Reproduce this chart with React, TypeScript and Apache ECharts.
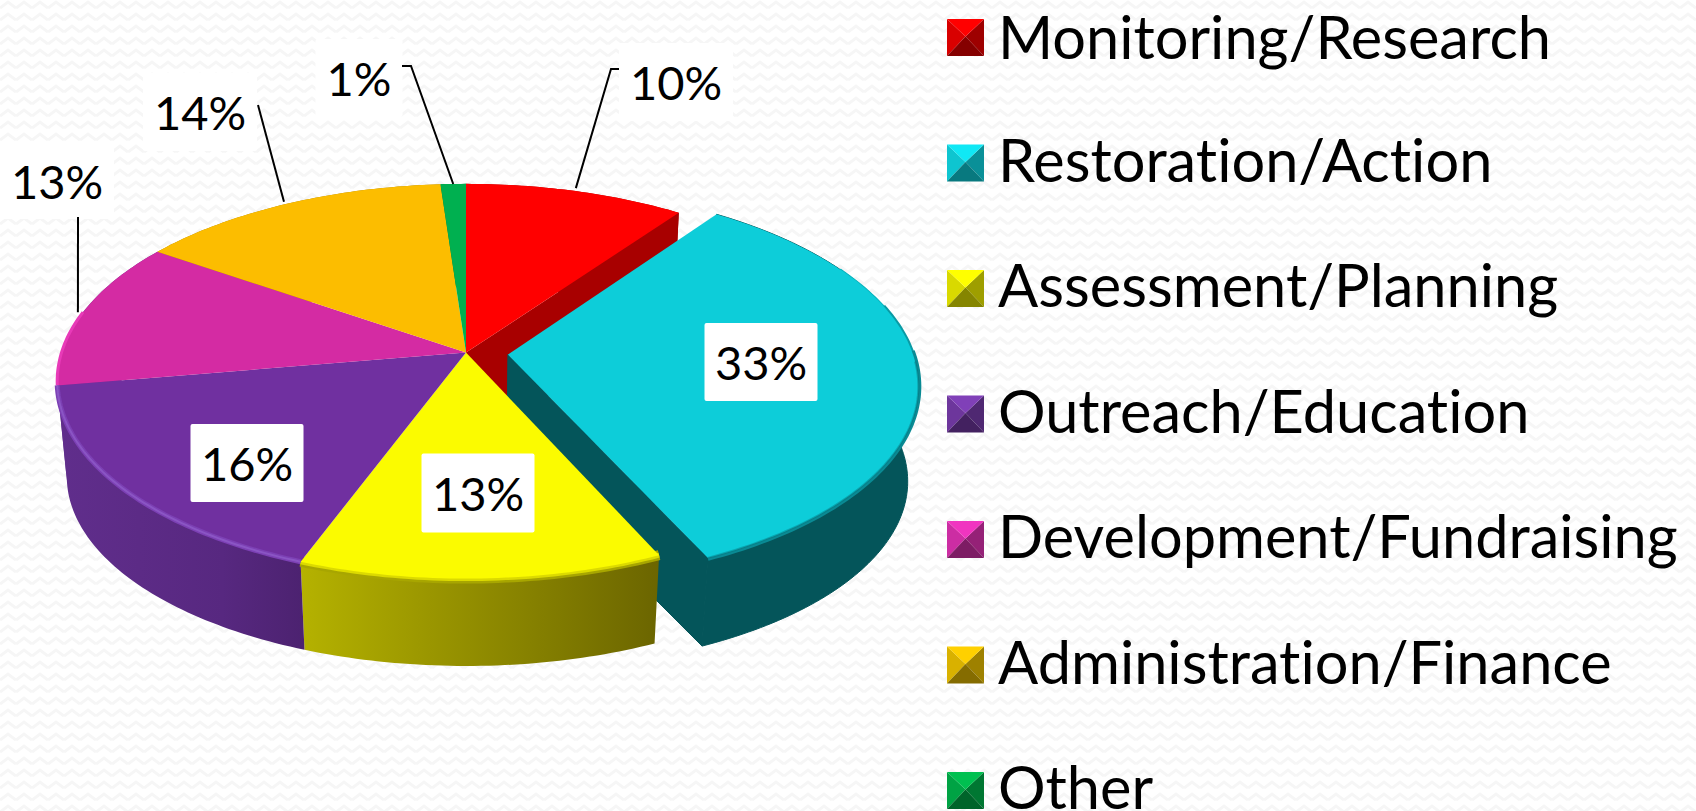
import React, { useEffect, useRef } from "react";
import * as echarts from "echarts";

const categories = [
  "Monitoring/Research",
  "Restoration/Action",
  "Assessment/Planning",
  "Outreach/Education",
  "Development/Fundraising",
  "Administration/Finance",
  "Other",
];
const shares = [10, 33.2, 12.55, 16.6, 12.2, 14.3, 1.15];
// The percentages printed on the chart
const shareLabels = ["10%", "33%", "13%", "16%", "13%", "14%", "1%"];
const topColors = ["#ff0000", "#0dcdd9", "#fbfb00", "#7030a0", "#d42ba3", "#fcbd00", "#00b050"];
const legendColors = ["#ff0000", "#10e8f5", "#ffff00", "#8040b8", "#f035c0", "#ffd000", "#00c050"];

const FONT = "Lato, Carlito, sans-serif";
const LABEL_SIZE = 47;
const LEGEND_SIZE = 59.5;

// Perspective of the disc: (u, v) in the unit disc, v towards the viewer
const K = 0.145;
const TOP = { cx: 466, cy: 352.6, a: 404.5, b: 193.2 };
const BOTTOM = { cx: 466, cy: 449, a: 395, b: 185.5 };
const EXPLODE = [0, 0.104, 0, 0, 0, 0, 0];

// Label boxes: centre, box size, optional leader elbow points
const labelLayout = [
  { x: 676, y: 82, w: 114, h: 78, dx: 0, dy: -3, leader: [[611, 69], [619, 69]] },
  { x: 761, y: 362, w: 113, h: 78, dx: 0, dy: 0, leader: null },
  { x: 478, y: 493, w: 113, h: 79, dx: 0, dy: 0, leader: null },
  { x: 247, y: 463, w: 113, h: 78, dx: 0, dy: 0, leader: null },
  { x: 57, y: 181, w: 114, h: 76, dx: -5, dy: 0, leader: [[78, 217]] },
  { x: 200, y: 112, w: 114, h: 78, dx: -3, dy: -2, leader: [[258, 105]] },
  { x: 359, y: 78, w: 87, h: 78, dx: 0, dy: 0, leader: [[411, 66], [402, 66]] },
];

const total = shares.reduce((s, v) => s + v, 0);
const startAngles: number[] = [];
shares.reduce((acc, v, i) => {
  startAngles[i] = acc;
  return acc + (v / total) * 360;
}, 0);

function disc(theta: number, r: number, idx: number) {
  const t = (theta * Math.PI) / 180;
  const mid = ((startAngles[idx] + (shares[idx] / total) * 180) * Math.PI) / 180;
  return [r * Math.sin(t) + EXPLODE[idx] * Math.sin(mid), -r * Math.cos(t) - EXPLODE[idx] * Math.cos(mid)];
}
function proj(p: number[], plane: typeof TOP) {
  const w = 1 - K * p[1];
  return [plane.cx + (plane.a * p[0]) / w, plane.cy + (plane.b * p[1]) / w];
}
function rim(a0: number, a1: number, idx: number, plane: typeof TOP) {
  const pts: number[][] = [];
  const n = Math.max(2, Math.ceil(Math.abs(a1 - a0)));
  for (let i = 0; i <= n; i++) pts.push(proj(disc(a0 + ((a1 - a0) * i) / n, 1, idx), plane));
  return pts;
}
function apex(idx: number, plane: typeof TOP) {
  return proj(disc(0, 0, idx), plane);
}
function grad(stops: string[]) {
  return {
    type: "linear",
    x: 0,
    y: 0,
    x2: 1,
    y2: 0,
    colorStops: stops.map((color, i) => ({ offset: i / (stops.length - 1), color })),
  };
}
const wallFills: any[] = [
  "#a80000",
  "#04555a",
  grad(["#b5b200", "#9c9800", "#847f00", "#6b6500"]),
  grad(["#602e8c", "#5c2b86", "#572880", "#4c2270"]),
  "#602e8c",
  "#a87e00",
  "#007535",
];
const poly = (points: number[][], fill: any, z2: number, stroke: string | null = null) => ({
  type: "polygon",
  z2,
  silent: true,
  shape: { points },
  style: { fill, stroke, lineWidth: stroke ? 1 : 0 },
});
const line = (points: number[][], stroke: string, lineWidth: number, z2: number) => ({
  type: "polyline",
  z2,
  silent: true,
  shape: { points },
  style: { fill: null, stroke, lineWidth },
});

function renderSlice(params: any, api: any) {
  const i = params.dataIndex;
  const share = api.value(1);
  const a0 = startAngles[i];
  const a1 = a0 + (share / total) * 360;
  const topRim = rim(a0, a1, i, TOP);
  const botRim = rim(a0, a1, i, BOTTOM);
  const cT = apex(i, TOP);
  const cB = apex(i, BOTTOM);
  const children: any[] = [];
  const isTeal = i === 1;
  // outer wall
  children.push(
    poly([...topRim, ...botRim.slice().reverse()], wallFills[i], isTeal ? 4 : i === 2 || i === 3 ? 5 : 1, isTeal ? "#04555a" : null)
  );
  // radial faces that the exploded slice uncovers
  if (i === 0) {
    children.push(poly([cT, topRim[topRim.length - 1], botRim[botRim.length - 1], cB], "#a80000", 2));
  }
  if (isTeal) {
    children.push(poly([cT, topRim[topRim.length - 1], botRim[botRim.length - 1], cB], "#04555a", 3, "#04555a"));
    children.push(line(rim(62, 76, i, TOP), "#0ab4be", 2, 5));
    children.push(line(rim(75, 90, i, TOP), "#0a9aa4", 4, 5));
    children.push(line(rim(89, a1, i, TOP), "#0a8a94", 6, 5));
  }
  // top
  children.push(poly([cT, ...topRim], topColors[i], isTeal ? 6 : 7));
  // bevel on the visible rim
  if (isTeal) children.push(line(rim(92, a1, i, TOP), "rgba(6,110,118,0.4)", 2, 7));
  if (i === 2) {
    children.push(line(topRim, "#a8a600", 10, 6));
    children.push(line(topRim, "#dcda00", 5, 6.5));
  }
  if (i === 3) {
    children.push(line(topRim, "#7c40b4", 5, 8));
    children.push(line(topRim, "#8a55c4", 2, 8.5));
  }
  if (i === 4) children.push(line(rim(a0, a0 + 22, i, TOP), "#e83ab8", 3, 8));

  // label
  const lay = labelLayout[i];
  children.push({
    type: "rect",
    z2: 20,
    silent: true,
    shape: { x: lay.x - lay.w / 2, y: lay.y - lay.h / 2, width: lay.w, height: lay.h, r: 2 },
    style: { fill: "#ffffff", stroke: null },
  });
  children.push({
    type: "text",
    z2: 21,
    silent: true,
    style: {
      x: lay.x,
      y: lay.y,
      text: shareLabels[i],
      fill: "#000000",
      font: `${LABEL_SIZE}px ${FONT}`,
      align: "center",
      verticalAlign: "middle",
    },
  });
  if (lay.leader) {
    const anchor = proj(disc((a0 + a1) / 2, 1, i), TOP);
    children.push(line([[anchor[0] + lay.dx, anchor[1] + lay.dy], ...lay.leader], "#000000", 2, 22));
  }
  return { type: "group", children };
}

function shade(hex: string, f: number) {
  const n = parseInt(hex.slice(1), 16);
  const c = [(n >> 16) & 255, (n >> 8) & 255, n & 255].map((v) => Math.round(v * f));
  return `rgb(${c[0]},${c[1]},${c[2]})`;
}
const LEGEND = { x: 947, y: 19, size: 37, step: 125.5, textX: 998 };
const legendGraphics = categories.flatMap((name, i) => {
  const { x, size } = LEGEND;
  const y = LEGEND.y + i * LEGEND.step;
  const mx = x + size / 2;
  const my = y + size / 2 - 1;
  const c = legendColors[i];
  const P = (points: number[][], fill: string) => ({ type: "polygon", shape: { points }, style: { fill } });
  return [
    P([[x, y], [mx, my], [x, y + size]], shade(c, 0.85)),
    P([[x + size, y], [mx, my], [x + size, y + size]], shade(c, 0.62)),
    P([[x, y + size], [mx, my], [x + size, y + size]], shade(c, 0.52)),
    P([[x, y], [x + size, y], [mx, my]], c),
    {
      type: "text",
      style: {
        x: LEGEND.textX,
        // the first row's line box must stay inside the page
        y: Math.max(36, y + size / 2 - 4.5),
        text: name,
        fill: "#000000",
        font: `${LEGEND_SIZE}px ${FONT}`,
        align: "left",
        verticalAlign: "middle",
      },
    },
  ];
});

const texture =
  "url(\"data:image/svg+xml;utf8," +
  encodeURIComponent(
    "<svg xmlns='http://www.w3.org/2000/svg' width='16' height='12'><polyline points='0,8 8,2 16,8' fill='none' stroke='#f6f6f6' stroke-width='3'/></svg>"
  ) +
  "\")";

export default function App() {
  const ref = useRef<HTMLDivElement>(null);
  useEffect(() => {
    document.body.style.margin = "0";
    document.documentElement.style.overflow = "hidden";
    const chart = echarts.init(ref.current!, undefined, { renderer: "svg" });
    chart.setOption({
      animation: false,
      backgroundColor: "transparent",
      tooltip: { show: false },
      graphic: legendGraphics,
      series: [
        {
          type: "custom",
          coordinateSystem: "none",
          silent: true,
          renderItem: renderSlice,
          data: categories.map((name, i) => ({ name, value: [i, shares[i]] })),
        },
      ],
    });
    return () => chart.dispose();
  }, []);
  return (
    <>
      <style>{"svg text { font-variant-ligatures: none !important; font-feature-settings: 'liga' 0, 'clig' 0 !important; }"}</style>
      <div
        ref={ref}
        style={{
          width: 1696,
          height: 811,
          backgroundColor: "#fff",
          backgroundImage: texture,
        }}
      />
    </>
  );
}
